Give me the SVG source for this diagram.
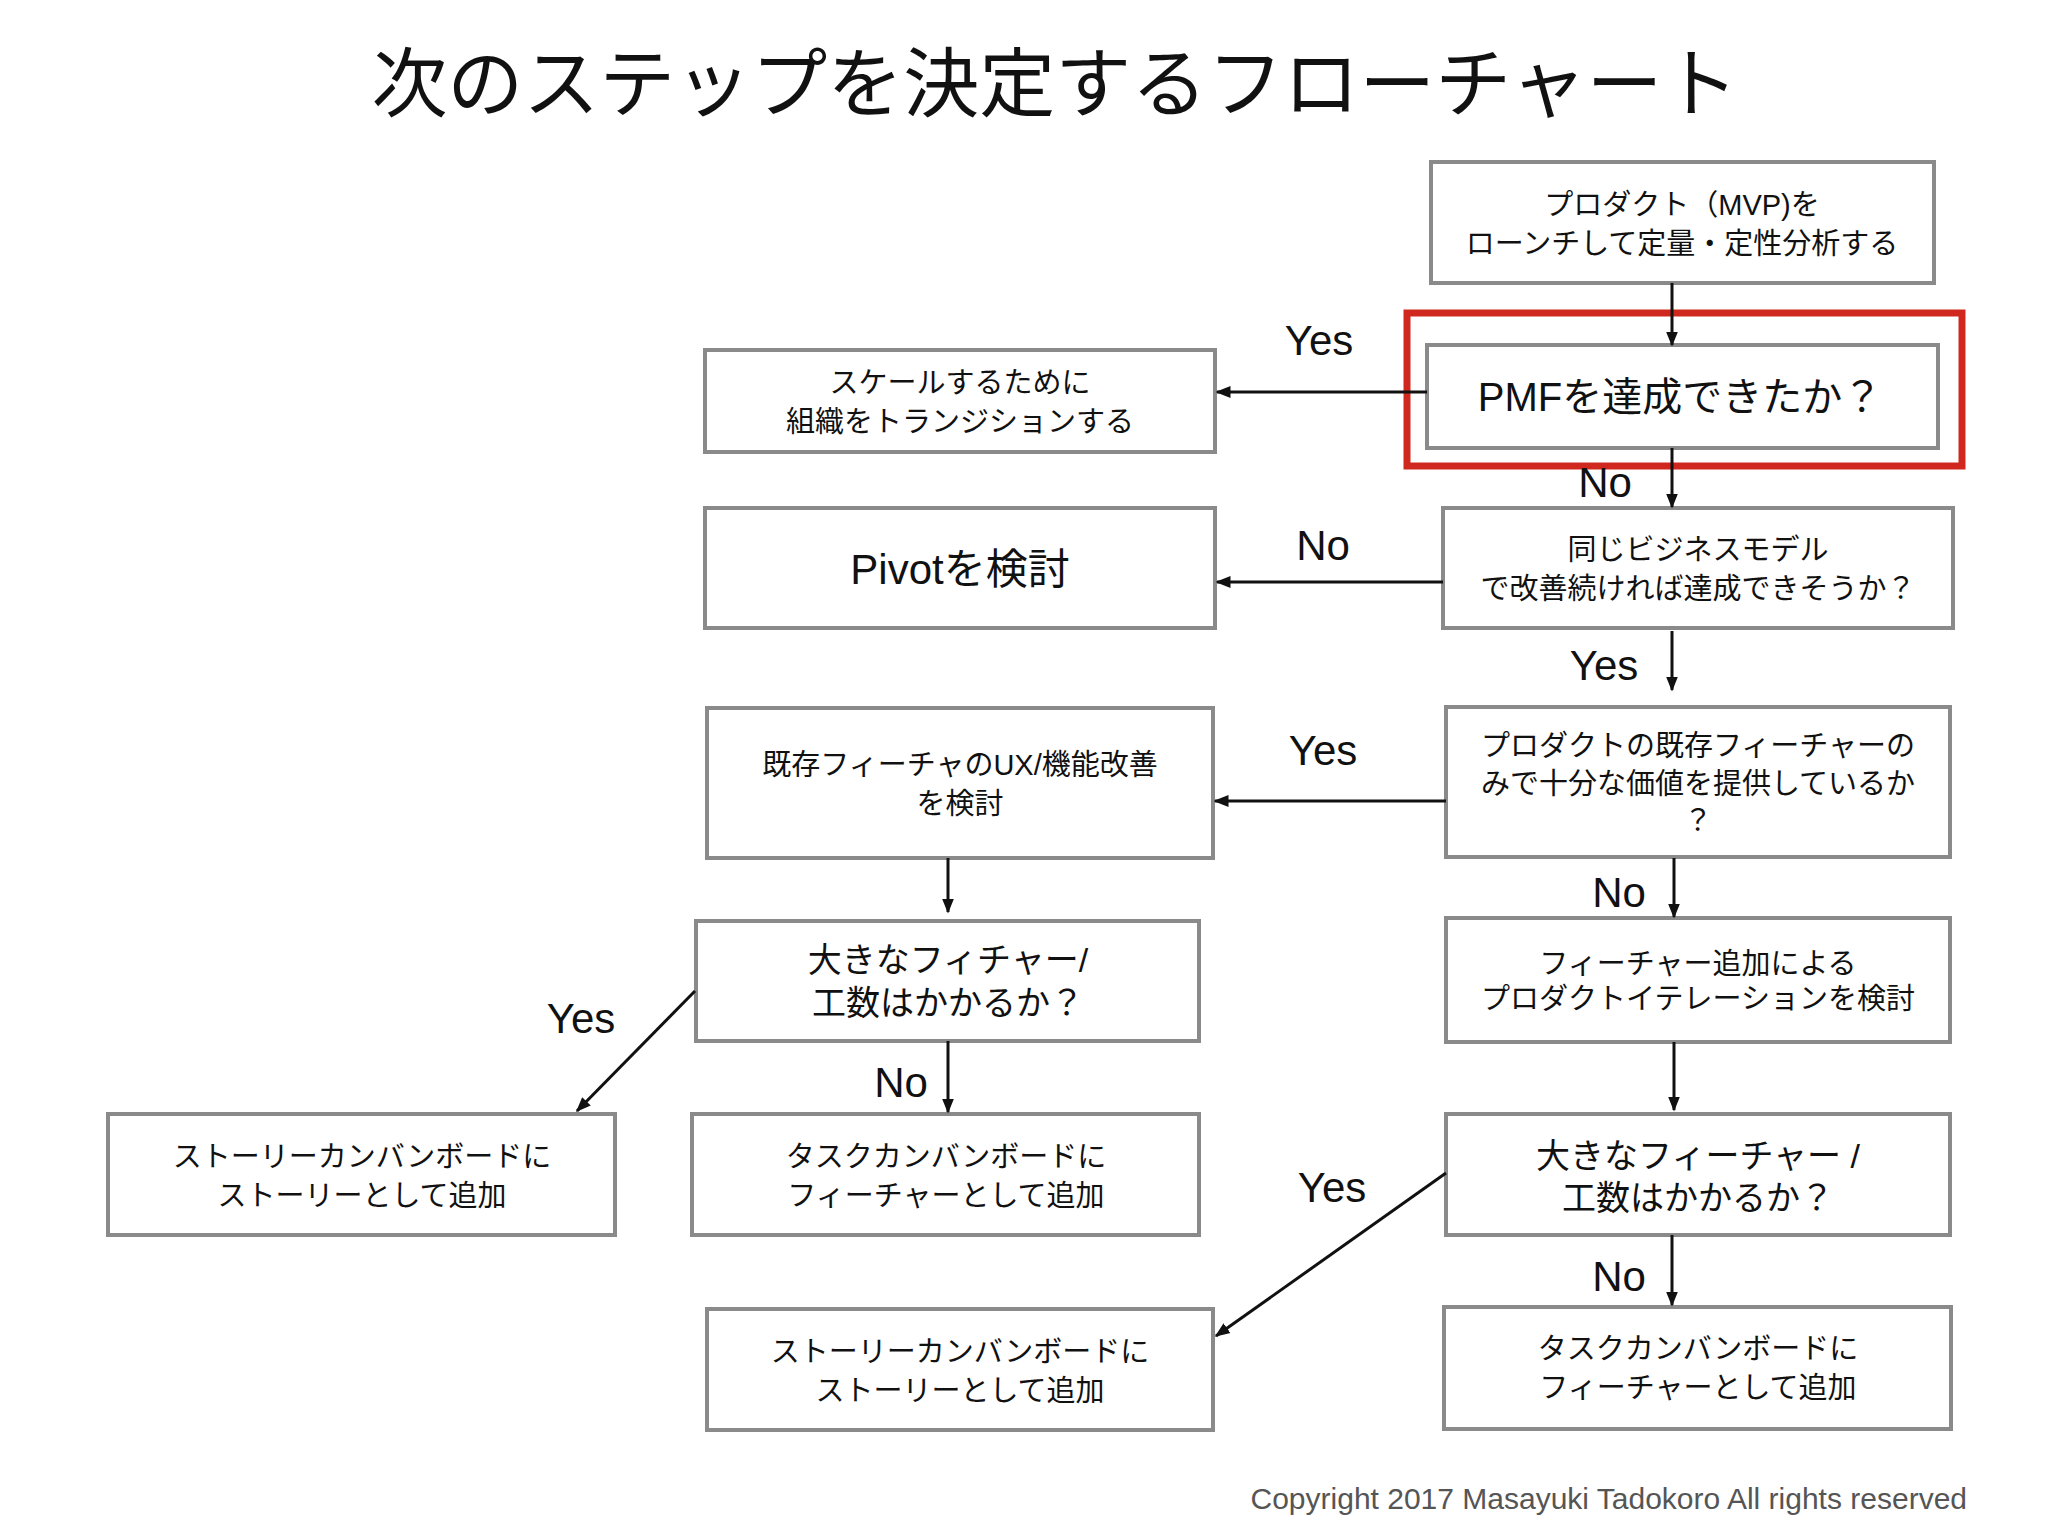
<svg xmlns="http://www.w3.org/2000/svg" width="2048" height="1536" viewBox="0 0 2048 1536">
<style>
text{font-family:"Liberation Sans","Noto Sans CJK JP",sans-serif;fill:#111;text-anchor:middle}
.b{fill:#fff;stroke:#8a8a8a;stroke-width:4}
.t{font-size:29px}
.m{font-size:34px}
.l{font-size:42px}
.c line{stroke:#111;stroke-width:3;marker-end:url(#a)}
</style>
<defs><marker id="a" viewBox="0 0 10 10" refX="9" refY="5" markerWidth="5" markerHeight="5" orient="auto"><path d="M0,1L10,5L0,9z" fill="#111"/></marker></defs>
<rect width="2048" height="1536" fill="#fff"/>
<text x="1055" y="111" style="font-size:76px">次のステップを決定するフローチャート</text>
<g id="n1"><rect class="b" x="1431" y="162" width="503" height="121"/><text class="t" x="1682" y="215">プロダクト（MVP)を</text><text class="t" x="1682" y="254">ローンチして定量・定性分析する</text></g>
<g id="n2"><rect class="b" x="1427" y="345" width="511" height="103"/><text x="1680" y="411" style="font-size:40px">PMFを達成できたか？</text></g>
<rect x="1407" y="313" width="555" height="153" fill="none" stroke="#d0281e" stroke-width="7"/>
<g id="n3"><rect class="b" x="705" y="350" width="510" height="102"/><text class="t" x="960" y="393">スケールするために</text><text class="t" x="960" y="432">組織をトランジションする</text></g>
<g id="n4"><rect class="b" x="705" y="508" width="510" height="120"/><text class="l" x="960" y="584">Pivotを検討</text></g>
<g id="n5"><rect class="b" x="1443" y="508" width="510" height="120"/><text class="t" x="1698" y="560">同じビジネスモデル</text><text class="t" x="1698" y="599">で改善続ければ達成できそうか？</text></g>
<g id="n6"><rect class="b" x="707" y="708" width="506" height="150"/><text class="t" x="960" y="775">既存フィーチャのUX/機能改善</text><text class="t" x="960" y="814">を検討</text></g>
<g id="n7"><rect class="b" x="1446" y="707" width="504" height="150"/><text class="t" x="1698" y="756">プロダクトの既存フィーチャーの</text><text class="t" x="1698" y="794">みで十分な価値を提供しているか</text><text class="t" x="1698" y="831">？</text></g>
<g id="n8"><rect class="b" x="696" y="921" width="503" height="120"/><text class="m" x="948" y="972">大きなフィチャー/</text><text class="m" x="948" y="1015">工数はかかるか？</text></g>
<g id="n9"><rect class="b" x="1446" y="918" width="504" height="124"/><text class="t" x="1698" y="974">フィーチャー追加による</text><text class="t" x="1698" y="1009">プロダクトイテレーションを検討</text></g>
<g id="n10"><rect class="b" x="108" y="1114" width="507" height="121"/><text class="t" x="362" y="1167">ストーリーカンバンボードに</text><text class="t" x="362" y="1206">ストーリーとして追加</text></g>
<g id="n11"><rect class="b" x="692" y="1114" width="507" height="121"/><text class="t" x="946" y="1167">タスクカンバンボードに</text><text class="t" x="946" y="1206">フィーチャーとして追加</text></g>
<g id="n12"><rect class="b" x="1446" y="1114" width="504" height="121"/><text class="m" x="1698" y="1168">大きなフィーチャー /</text><text class="m" x="1698" y="1210">工数はかかるか？</text></g>
<g id="n13"><rect class="b" x="707" y="1309" width="506" height="121"/><text class="t" x="960" y="1362">ストーリーカンバンボードに</text><text class="t" x="960" y="1401">ストーリーとして追加</text></g>
<g id="n14"><rect class="b" x="1444" y="1307" width="507" height="122"/><text class="t" x="1698" y="1359">タスクカンバンボードに</text><text class="t" x="1698" y="1398">フィーチャーとして追加</text></g>
<g class="c">
<line x1="1672" y1="283" x2="1672" y2="345"/>
<line x1="1427" y1="392" x2="1217" y2="392"/>
<line x1="1672" y1="448" x2="1672" y2="507"/>
<line x1="1443" y1="582" x2="1217" y2="582"/>
<line x1="1672" y1="631" x2="1672" y2="690"/>
<line x1="1446" y1="801" x2="1215" y2="801"/>
<line x1="948" y1="858" x2="948" y2="912"/>
<line x1="1674" y1="858" x2="1674" y2="917"/>
<line x1="695" y1="991" x2="577" y2="1111"/>
<line x1="948" y1="1041" x2="948" y2="1112"/>
<line x1="1674" y1="1042" x2="1674" y2="1110"/>
<line x1="1446" y1="1173" x2="1216" y2="1336"/>
<line x1="1672" y1="1235" x2="1672" y2="1305"/>
</g>
<g class="l">
<text class="l" x="1319" y="355">Yes</text>
<text class="l" x="1605" y="497">No</text>
<text class="l" x="1323" y="560">No</text>
<text class="l" x="1604" y="680">Yes</text>
<text class="l" x="1323" y="765">Yes</text>
<text class="l" x="1619" y="907">No</text>
<text class="l" x="581" y="1033">Yes</text>
<text class="l" x="901" y="1097">No</text>
<text class="l" x="1332" y="1202">Yes</text>
<text class="l" x="1619" y="1291">No</text>
</g>
<text x="1967" y="1509" style="font-size:30px;fill:#555;text-anchor:end">Copyright 2017 Masayuki Tadokoro All rights reserved</text>
</svg>
